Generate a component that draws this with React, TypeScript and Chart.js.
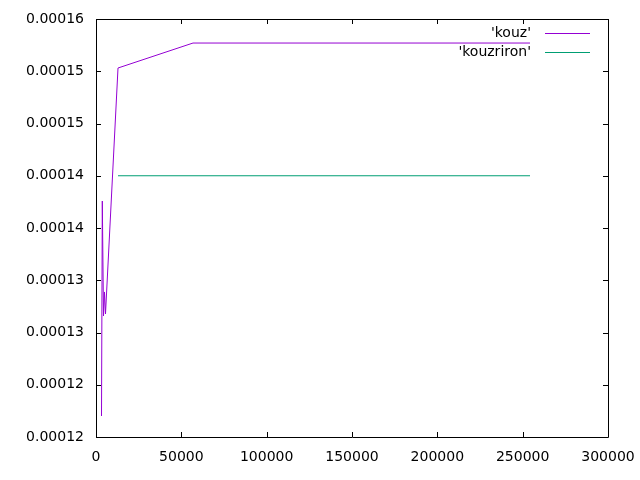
import React, { useEffect, useRef } from "react";
import { Chart, registerables } from "chart.js";

Chart.register(...registerables);

const kouzX = [3223, 3691, 4395, 4980, 5566, 12891, 56836, 254297];
const kouzY = [0.00012201, 0.00014258, 0.00013158, 0.00013388, 0.00013177, 0.00015531, 0.0001577, 0.0001577];

const kouzrironX = [12891, 56836, 254297];
const kouzrironY = [0.000145, 0.000145, 0.000145];

const yTickValues = [0.00012, 0.000125, 0.00013, 0.000135, 0.00014, 0.000145, 0.00015, 0.000155, 0.00016];
const yTickLabels = ["0.00012", "0.00012", "0.00013", "0.00013", "0.00014", "0.00014", "0.00015", "0.00015", "0.00016"];
const xTickValues = [0, 50000, 100000, 150000, 200000, 250000, 300000];
const xTickLabels = ["0", "50000", "100000", "150000", "200000", "250000", "300000"];

const seriesNames = ["'kouz'", "'kouzriron'"];
const seriesColors = ["#9400d3", "#009e73"];

const FONT = "'DejaVu Sans', sans-serif";
const FONT_SIZE = 14;

const framePlugin = {
  id: "frame",
  afterDatasetsDraw(chart: any) {
    const { ctx, chartArea } = chart;
    const { left, right, top, bottom } = chartArea;
    const xs = chart.scales.x;
    const ys = chart.scales.y;
    const tl = 5;
    ctx.save();
    ctx.strokeStyle = "#000";
    ctx.lineWidth = 1;
    ctx.beginPath();
    ctx.rect(Math.round(left) + 0.5, Math.round(top) + 0.5, Math.round(right - left), Math.round(bottom - top));
    ctx.stroke();
    ctx.beginPath();
    yTickValues.forEach((v) => {
      const y = Math.round(ys.getPixelForValue(v)) + 0.5;
      ctx.moveTo(left, y);
      ctx.lineTo(left + tl, y);
      ctx.moveTo(right, y);
      ctx.lineTo(right - tl, y);
    });
    xTickValues.forEach((v) => {
      const x = Math.round(xs.getPixelForValue(v)) + 0.5;
      ctx.moveTo(x, bottom);
      ctx.lineTo(x, bottom - tl);
      ctx.moveTo(x, top);
      ctx.lineTo(x, top + tl);
    });
    ctx.stroke();

    // legend
    ctx.font = `${FONT_SIZE}px ${FONT}`;
    ctx.fillStyle = "#000";
    ctx.textAlign = "right";
    ctx.textBaseline = "middle";
    const legendY = [33, 52];
    seriesNames.forEach((name, i) => {
      ctx.fillText(name, 531, legendY[i]);
      ctx.strokeStyle = seriesColors[i];
      ctx.beginPath();
      ctx.moveTo(545, legendY[i] + 0.5);
      ctx.lineTo(590, legendY[i] + 0.5);
      ctx.stroke();
    });
    ctx.restore();
  },
};

export default function App() {
  const ref = useRef<HTMLCanvasElement | null>(null);
  useEffect(() => {
    if (!ref.current) return;
    const chart = new Chart(ref.current, {
      type: "scatter",
      data: {
        datasets: [
          {
            label: seriesNames[0],
            data: kouzX.map((x, i) => ({ x, y: kouzY[i] })),
            borderColor: seriesColors[0],
            backgroundColor: seriesColors[0],
            borderWidth: 1,
            showLine: true,
            pointRadius: 0,
            tension: 0,
            order: 2,
          },
          {
            label: seriesNames[1],
            data: kouzrironX.map((x, i) => ({ x, y: kouzrironY[i] })),
            borderColor: seriesColors[1],
            backgroundColor: seriesColors[1],
            borderWidth: 1,
            showLine: true,
            pointRadius: 0,
            tension: 0,
            order: 1,
          },
        ],
      },
      options: {
        animation: false,
        responsive: false,
        layout: { padding: { top: 19, right: 32, left: 0, bottom: 0 } },
        plugins: { legend: { display: false }, tooltip: { enabled: false } },
        scales: {
          x: {
            type: "linear",
            min: 0,
            max: 300000,
            grid: { display: false, drawTicks: false },
            border: { display: false },
            afterBuildTicks: (s: any) => {
              s.ticks = xTickValues.map((v) => ({ value: v }));
            },
            afterFit: (s: any) => {
              s.height = 43;
              s.paddingLeft = 0;
              s.paddingRight = 0;
            },
            ticks: {
              color: "#000",
              padding: 12,
              maxRotation: 0,
              autoSkip: false,
              font: { family: FONT, size: FONT_SIZE },
              callback: (_v: any, i: number) => xTickLabels[i],
            },
          },
          y: {
            type: "linear",
            min: 0.00012,
            max: 0.00016,
            grid: { display: false, drawTicks: false },
            border: { display: false },
            afterBuildTicks: (s: any) => {
              s.ticks = yTickValues.map((v) => ({ value: v }));
            },
            afterFit: (s: any) => {
              s.width = 96;
              s.paddingTop = 0;
              s.paddingBottom = 0;
            },
            ticks: {
              color: "#000",
              padding: 12,
              autoSkip: false,
              font: { family: FONT, size: FONT_SIZE },
              callback: (_v: any, i: number) => yTickLabels[i],
            },
          },
        },
      },
      plugins: [framePlugin],
    });
    return () => chart.destroy();
  }, []);
  return (
    <div style={{ position: "fixed", left: 0, top: 0, width: 640, height: 480, background: "#fff" }}>
      <canvas ref={ref} width={640} height={480} style={{ display: "block" }} />
    </div>
  );
}
